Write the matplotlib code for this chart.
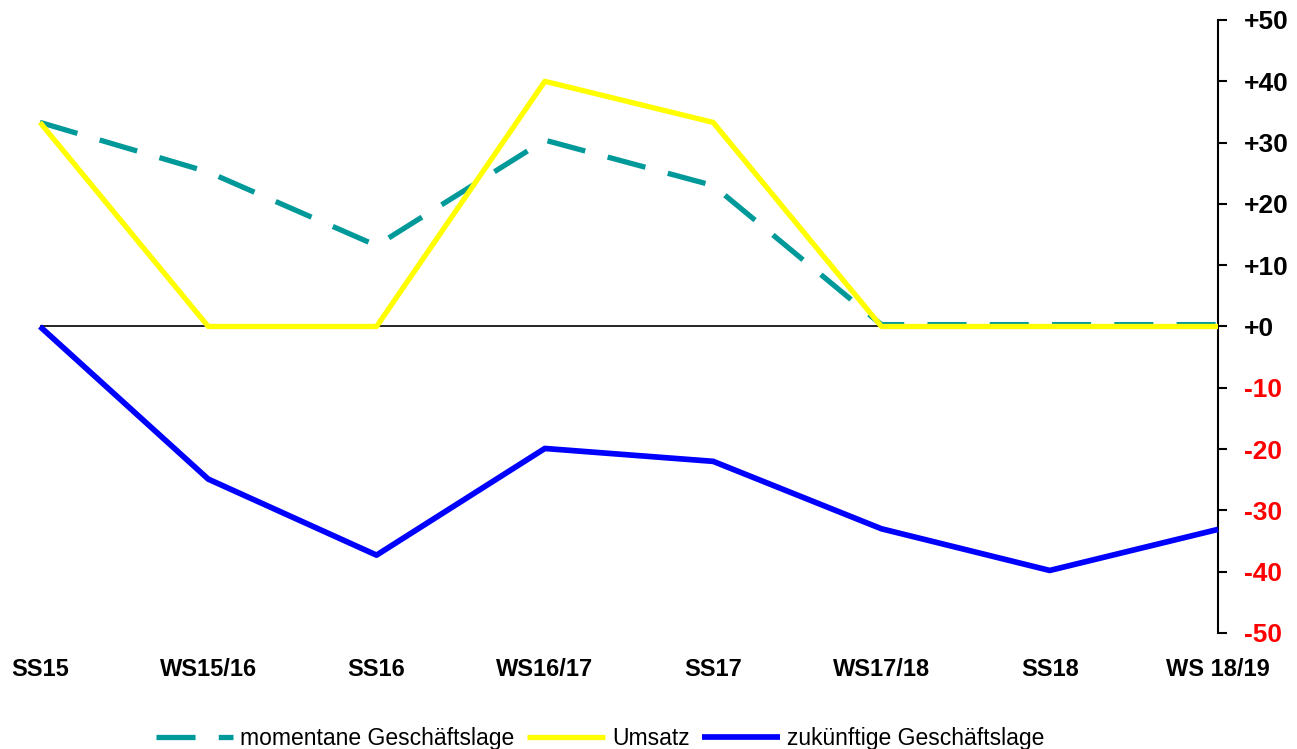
import matplotlib.pyplot as plt

plt.rcParams['font.family'] = ['Liberation Sans', 'DejaVu Sans']

# data
periods = ['SS15', 'WS15/16', 'SS16', 'WS16/17', 'SS17', 'WS17/18', 'SS18', 'WS 18/19']
momentane = [33.3, 25.2, 13.2, 30.4, 23.0, 0.3, 0.3, 0.3]
umsatz = [33.3, 0, 0, 40.0, 33.3, 0, 0, 0]
zukuenftige = [0, -24.9, -37.3, -19.9, -22.0, -33.0, -39.8, -33.1]
yticks = [-50, -40, -30, -20, -10, 0, 10, 20, 30, 40, 50]

fig = plt.figure(figsize=(12.97, 7.49), dpi=100)
ax = fig.add_axes([0.0308, 0.1549, 0.9083, 0.8184])

x = range(len(periods))
ax.axhline(0, color='black', lw=1.2, zorder=1)
ax.plot(x, momentane, color='#009999', lw=3.8, dashes=(7.4, 4.4),
        label='momentane Geschäftslage', clip_on=False, zorder=2)
ax.plot(x, umsatz, color='#FFFF00', lw=3.8, solid_capstyle='butt',
        label='Umsatz', clip_on=False, zorder=3)
ax.plot(x, zukuenftige, color='#0000FF', lw=4.1, solid_capstyle='butt',
        label='zukünftige Geschäftslage', clip_on=False, zorder=4)

ax.set_xlim(0, len(periods) - 1)
ax.set_ylim(-50, 50)

for side in ['left', 'top', 'bottom']:
    ax.spines[side].set_visible(False)
ax.spines['right'].set_linewidth(1.5)

# right hand axis with signed labels, negatives in red
ax.yaxis.tick_right()
ax.set_yticks(yticks, labels=[('+%d' % v) if v >= 0 else ('-%d' % -v) for v in yticks])
ax.tick_params(axis='y', direction='out', length=6.5, width=1.5, pad=12, labelsize=19)
for lab, v in zip(ax.get_yticklabels(), yticks):
    lab.set_fontweight('bold')
    lab.set_color('#FF0000' if v < 0 else 'black')

ax.set_xticks(list(x), labels=periods, fontweight='bold', fontsize=17)
ax.tick_params(axis='x', length=0, pad=18)

fig.legend(loc='center', bbox_to_anchor=(0.4626, 0.014), ncol=3, frameon=False,
           fontsize=16.5, handlelength=3.4, handletextpad=0.3, columnspacing=0.55)

fig.savefig('out.png', dpi=100)
